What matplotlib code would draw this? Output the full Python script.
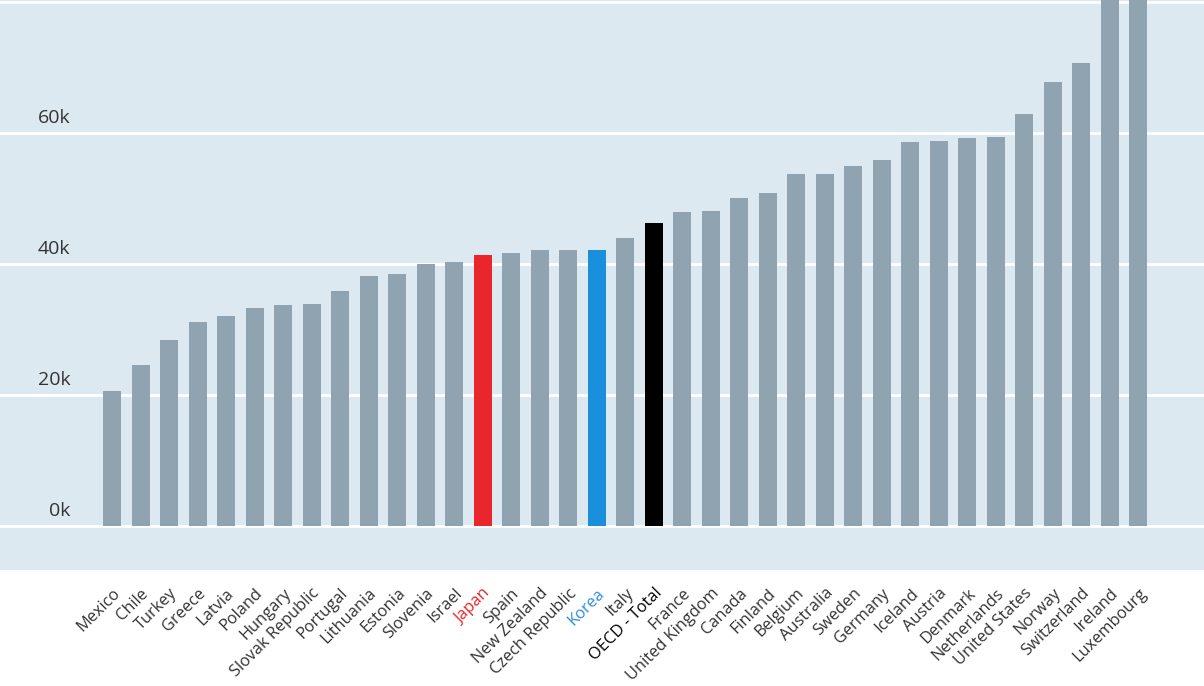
import matplotlib.pyplot as plt

plt.rcParams['font.family'] = ['Open Sans', 'DejaVu Sans']

# Datos (miles)
paises = ["Mexico", "Chile", "Turkey", "Greece", "Latvia", "Poland", "Hungary",
          "Slovak Republic", "Portugal", "Lithuania", "Estonia", "Slovenia", "Israel",
          "Japan", "Spain", "New Zealand", "Czech Republic", "Korea", "Italy",
          "OECD - Total", "France", "United Kingdom", "Canada", "Finland", "Belgium",
          "Australia", "Sweden", "Germany", "Iceland", "Austria", "Denmark",
          "Netherlands", "United States", "Norway", "Switzerland", "Ireland", "Luxembourg"]
valores = [20.6, 24.6, 28.4, 31.1, 32.1, 33.3, 33.7, 33.9, 35.9, 38.2, 38.5, 40.0, 40.3,
           41.4, 41.7, 42.1, 42.1, 42.1, 44.0, 46.3, 47.9, 48.1, 50.1, 50.8, 53.7,
           53.7, 55.0, 55.9, 58.6, 58.8, 59.2, 59.4, 62.9, 67.8, 70.7, 86.0, 110.0]
yticks = [0, 20, 40, 60, 80]
ytick_labels = ["0k", "20k", "40k", "60k", ""]

gris = "#8fa4b0"
destacados = {"Japan": "#e8262b", "Korea": "#1a8fdc", "OECD - Total": "#000000"}
colores = [destacados.get(p, gris) for p in paises]
color_texto = {"Japan": "#e8262b", "Korea": "#2f8fdd", "OECD - Total": "#000000"}

fig = plt.figure(figsize=(12.04, 6.86), dpi=100)
ax = fig.add_axes([0, 0.169, 1, 0.831])
ax.set_facecolor("#dde9f1")

x = list(range(len(paises)))
ax.bar(x, valores, width=0.63, color=colores, zorder=3)

ax.set_xlim(-3.93, 38.3)
ax.set_ylim(-6.7, 80.3)
ax.set_yticks(yticks)
ax.yaxis.grid(True, color="white", linewidth=2, zorder=1)
ax.set_axisbelow(True)
ax.tick_params(axis='y', length=0, labelleft=False)
ax.tick_params(axis='x', length=0)
for s in ax.spines.values():
    s.set_visible(False)

# Etiquetas del eje y dentro del área
for v, lab in zip(yticks, ytick_labels):
    ax.text(-1.47, v + 0.9, lab, ha='right', va='bottom', fontsize=14, color="#333333")

ax.set_xticks(x)
ax.set_xticklabels(paises, rotation=45, ha='right', rotation_mode='anchor', fontsize=11.8)
for lbl in ax.get_xticklabels():
    lbl.set_color(color_texto.get(lbl.get_text(), "#333333"))
ax.tick_params(axis='x', pad=11)

plt.savefig("out.png", dpi=100)
